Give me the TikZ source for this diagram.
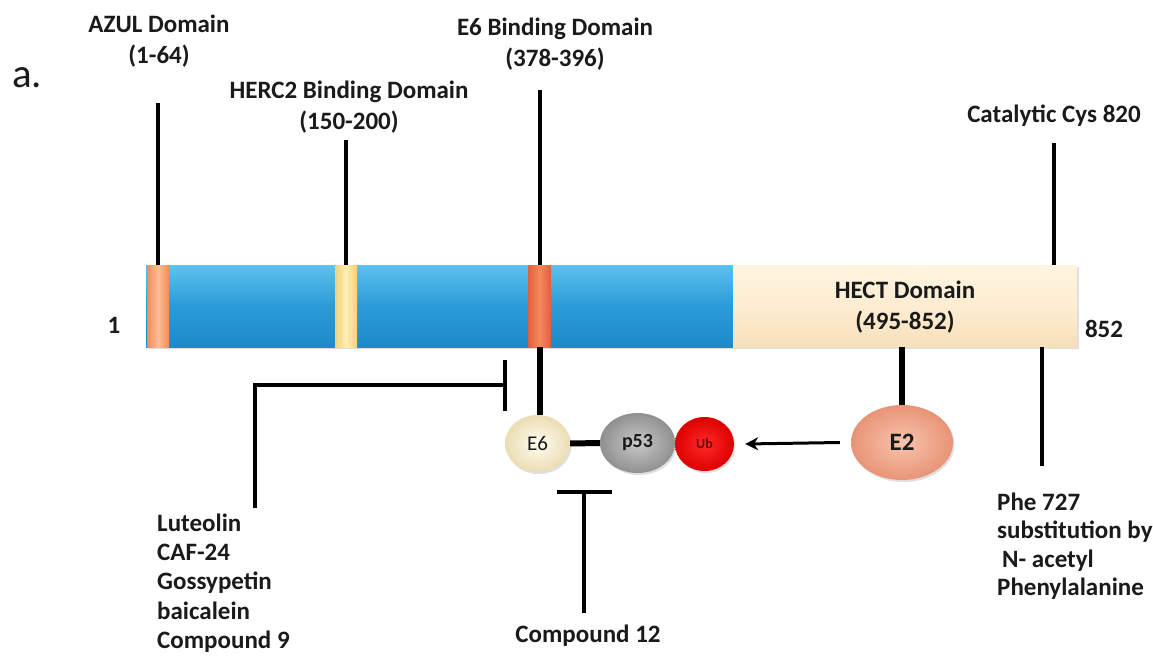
\documentclass[tikz,border=0pt]{standalone}
\usepackage{fontspec}
\setmainfont{Carlito}
\usetikzlibrary{arrows.meta,shapes.geometric,shadows}
\definecolor{barTop}{HTML}{5CC2EE}
\definecolor{barMid}{HTML}{2B9BD7}
\definecolor{barBot}{HTML}{1E8ACB}
\definecolor{hectTop}{HTML}{FEF4E0}
\definecolor{hectMid}{HTML}{FDEDD1}
\definecolor{hectBot}{HTML}{F6E0BA}
\definecolor{orEdge}{HTML}{F28B55}
\definecolor{orMid}{HTML}{FDBE97}
\definecolor{yeEdge}{HTML}{F5D27A}
\definecolor{yeMid}{HTML}{FEEDB4}
\definecolor{reEdge}{HTML}{E0613A}
\definecolor{reMid}{HTML}{F58A5E}
\definecolor{e6In}{HTML}{FFFDF2}
\definecolor{e6Out}{HTML}{EBDDB3}
\definecolor{pIn}{HTML}{C8C8C8}
\definecolor{pOut}{HTML}{909090}
\definecolor{ubIn}{HTML}{FF2A2A}
\definecolor{ubOut}{HTML}{DD0000}
\definecolor{ubText}{HTML}{6B0A0A}
\definecolor{e2In}{HTML}{F8C4AE}
\definecolor{e2Out}{HTML}{E89476}
\definecolor{txt}{HTML}{1A1A1A}
\begin{document}
\begin{tikzpicture}[x=1pt,y=-1pt,
  hdr/.style={font=\fontsize{25}{31}\selectfont\bfseries, text=txt, align=center, inner sep=0pt, anchor=north},
  lst/.style={font=\fontsize{25}{30}\selectfont\bfseries, text=txt, align=left, inner sep=0pt, anchor=north west},
  single/.style={font=\fontsize{25}{30}\selectfont\bfseries, text=txt, inner sep=0pt, anchor=base},
  seg/.style={rectangle, inner sep=0pt, minimum width=22pt, minimum height=82pt},
  shad/.style={drop shadow={opacity=0.25, shadow xshift=1.5pt, shadow yshift=-2pt}},
  blob/.style={ellipse, inner sep=0pt, shad},
  thinline/.style={line width=4pt},
  fatline/.style={line width=6pt},
]
\useasboundingbox (0,0) rectangle (1153,658);
\fill[white] (0,0) rectangle (1153,658);

% protein bar
\node[rectangle, inner sep=0pt, minimum width=587pt, minimum height=82pt,
      top color=barTop, bottom color=barBot, middle color=barMid, shad] (bar) at (439.5,306) {};
\node[rectangle, inner sep=0pt, minimum width=344pt, minimum height=82pt,
      top color=hectTop, bottom color=hectBot, middle color=hectMid, shad,
      font=\fontsize{25}{31}\selectfont\bfseries, text=txt, align=center] (hect) at (905,306)
      {\rule{0pt}{20pt}HECT Domain\\(495-852)};
\node[seg, left color=orEdge, right color=orEdge, middle color=orMid] (azulseg) at (158,306) {};
\node[seg, left color=yeEdge, right color=yeEdge, middle color=yeMid] (hercseg) at (346,306) {};
\node[seg, left color=reEdge, right color=reEdge, middle color=reMid] (e6seg) at (539.5,306) {};

% labels
\node[font=\fontsize{41}{41}\selectfont, text=txt, inner sep=0pt, anchor=base west] (panel) at (12,88) {a.};
\node[hdr] (azulL) at (159,12) {\rule{0pt}{20pt}AZUL Domain\\(1-64)};
\node[hdr] (hercL) at (349,78) {\rule{0pt}{20pt}HERC2 Binding Domain\\(150-200)};
\node[hdr] (e6L) at (555,15) {\rule{0pt}{20pt}E6 Binding Domain\\(378-396)};
\node[single] (catL) at (1054,122) {Catalytic Cys 820};
\node[single] (n1) at (114,333) {1};
\node[single] (n852) at (1104,337) {852};

% label lines
\coordinate (azulTop) at (158,103);
\coordinate (hercTop) at (346,140);
\coordinate (e6Top) at (539.5,90);
\coordinate (catTop) at (1054,143);
\draw[thinline] (azulTop) -- (azulseg.north);
\draw[thinline] (hercTop) -- (hercseg.north);
\draw[thinline] (e6Top) -- (e6seg.north);
\draw[thinline] (catTop) -- (catTop |- hect.north);

% complex
\node[blob, minimum width=65pt, minimum height=57pt, inner color=e6In, outer color=e6Out,
      font=\fontsize{21}{21}\selectfont, text=txt] (e6) at (537.5,443.5) {E6};
\node[blob, minimum width=75pt, minimum height=60pt, inner color=pIn, outer color=pOut,
      font=\fontsize{20}{20}\selectfont\bfseries, text=txt] (p53) at (637.5,443) {p53};
\node[blob, minimum width=59pt, minimum height=54pt, inner color=ubIn, outer color=ubOut,
      font=\fontsize{14}{14}\selectfont\bfseries, text=ubText] (ub) at (704.5,444) {Ub};
\node[blob, minimum width=102pt, minimum height=75pt, inner color=e2In, outer color=e2Out,
      font=\fontsize{25}{25}\selectfont\bfseries, text=txt] (e2) at (902,442.5) {E2};

\draw[fatline] (e6seg.south) -- (e6seg.south |- e6.north);
\draw[fatline] (e6.east) -- (p53.west);
\draw[fatline] (e2.north) -- (e2.north |- hect.south);
\draw[line width=3pt, -{Stealth[length=13pt,width=13pt]}] ([xshift=-11pt]e2.west) -- ([xshift=11pt]ub.east);

% Phe 727
\coordinate (pheEnd) at (1042,466);
\draw[thinline] (pheEnd |- hect.south) -- (pheEnd);
\node[lst, font=\fontsize{25}{28.5}\selectfont\bfseries] (phe) at (997,490)
  {\rule{0pt}{20pt}Phe 727\\substitution by\\\hspace*{5pt}N- acetyl\\Phenylalanine};

% inhibitors
\coordinate (lutTop) at (255,508);
\coordinate (lutEnd) at (507,385);
\draw[thinline, -{Bar[width=51pt]}] (lutTop) |- (lutEnd);
\node[lst, font=\fontsize{25}{29.3}\selectfont\bfseries] (drugs) at (157,511)
  {\rule{0pt}{20pt}Luteolin\\CAF-24\\Gossypetin\\baicalein\\Compound 9};

\coordinate (c12Top) at (584,613);
\coordinate (c12End) at (584,490);
\draw[thinline, -{Bar[width=55pt]}] (c12Top) -- (c12End);
\node[single] (c12) at (588,642) {Compound 12};
\end{tikzpicture}
\end{document}
